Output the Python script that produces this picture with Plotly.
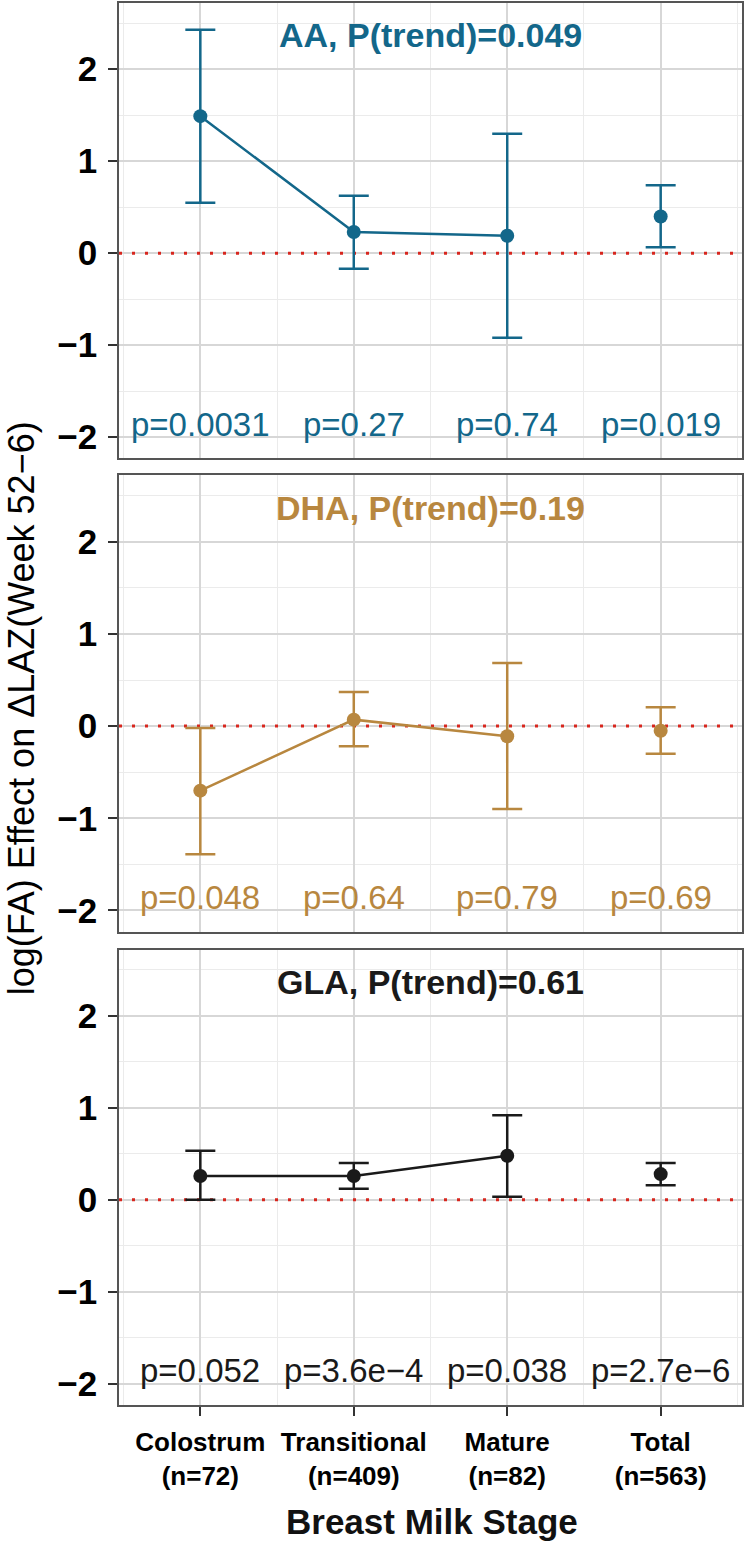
import plotly.graph_objects as go

# ---------------- data ----------------
stage_names = ["Colostrum", "Transitional", "Mature", "Total"]
stage_n = [72, 409, 82, 563]
stage_pos = [1, 2, 3, 4]

aa_est = [1.49, 0.23, 0.19, 0.40]
aa_lo = [0.55, -0.17, -0.92, 0.065]
aa_hi = [2.43, 0.625, 1.30, 0.74]
aa_p = ["p=0.0031", "p=0.27", "p=0.74", "p=0.019"]
aa_trend = "AA, P(trend)=0.049"

dha_est = [-0.70, 0.07, -0.11, -0.05]
dha_lo = [-1.39, -0.22, -0.90, -0.30]
dha_hi = [-0.02, 0.37, 0.685, 0.205]
dha_p = ["p=0.048", "p=0.64", "p=0.79", "p=0.69"]
dha_trend = "DHA, P(trend)=0.19"

gla_est = [0.26, 0.26, 0.48, 0.28]
gla_lo = [0.00, 0.12, 0.035, 0.16]
gla_hi = [0.535, 0.40, 0.92, 0.40]
gla_p = ["p=0.052", "p=3.6e\u22124", "p=0.038", "p=2.7e\u22126"]
gla_trend = "GLA, P(trend)=0.61"

y_ticks = [-2, -1, 0, 1, 2]
y_minor = [-1.5, -0.5, 0.5, 1.5, 2.5]
x_minor = [0.5, 1.5, 2.5, 3.5, 4.5]
ref_y = 0

panels = [
    dict(est=aa_est, lo=aa_lo, hi=aa_hi, p=aa_p, title=aa_trend, color="#13678A"),
    dict(est=dha_est, lo=dha_lo, hi=dha_hi, p=dha_p, title=dha_trend, color="#B8873F"),
    dict(est=gla_est, lo=gla_lo, hi=gla_hi, p=gla_p, title=gla_trend, color="#1A1A1A"),
]

# ---------------- style ----------------
FONT = "Liberation Sans, Arial, Helvetica, sans-serif"
W, H = 745, 1544
ML, MR, MT, MB = 119, 1, 1, 139
XR = [0.47, 4.53]
YR = [-2.23, 2.72]
domains = [[0.6752, 1.0], [0.3376, 0.6631], [0.0, 0.3248]]
GRID = "#D7D7D7"
MINOR = "#EBEBEB"
BORDER = "#555555"

fig = go.Figure()
layout = dict(
    width=W, height=H,
    margin=dict(l=ML, r=MR, t=MT, b=MB),
    paper_bgcolor="white", plot_bgcolor="white",
    showlegend=False,
    font=dict(family=FONT, color="black"),
    annotations=[],
)

tick_text = [f"{s}<br>(n={n})" for s, n in zip(stage_names, stage_n)]

for i, pnl in enumerate(panels):
    k = "" if i == 0 else str(i + 1)
    xa, ya = "x" + k, "y" + k
    col = pnl["color"]
    est, lo, hi = pnl["est"], pnl["lo"], pnl["hi"]
    up = [h - e for h, e in zip(hi, est)]
    dn = [e - l for e, l in zip(est, lo)]

    # zero reference line (dotted red), spanning the full axis range
    fig.add_trace(go.Scatter(
        x=XR, y=[ref_y, ref_y], mode="lines",
        line=dict(color="#D7261E", width=3, dash="3px,10px"),
        xaxis=xa, yaxis=ya, hoverinfo="skip"))

    # stages connected
    fig.add_trace(go.Scatter(
        x=stage_pos[:3], y=est[:3], mode="lines+markers",
        line=dict(color=col, width=2.5),
        marker=dict(color=col, size=14),
        error_y=dict(type="data", symmetric=False, array=up[:3], arrayminus=dn[:3],
                     color=col, thickness=2.5, width=15),
        xaxis=xa, yaxis=ya, hoverinfo="skip"))
    # total alone
    fig.add_trace(go.Scatter(
        x=stage_pos[3:], y=est[3:], mode="markers",
        marker=dict(color=col, size=14),
        error_y=dict(type="data", symmetric=False, array=up[3:], arrayminus=dn[3:],
                     color=col, thickness=2.5, width=15),
        xaxis=xa, yaxis=ya, hoverinfo="skip"))

    # panel title
    layout["annotations"].append(dict(
        text="<b>" + pnl["title"] + "</b>", x=2.5, y=2.37, xref=xa, yref=ya,
        showarrow=False, xanchor="center", yanchor="middle",
        font=dict(size=34, color=col, family=FONT)))
    # p-values
    for xp, ptxt in zip(stage_pos, pnl["p"]):
        layout["annotations"].append(dict(
            text=ptxt, x=xp, y=-1.86, xref=xa, yref=ya,
            showarrow=False, xanchor="center", yanchor="middle",
            font=dict(size=33, color=col, family=FONT)))

    last = i == 2
    layout["xaxis" + k] = dict(
        domain=[0, 1], anchor=ya, range=XR,
        tickmode="array", tickvals=stage_pos, ticktext=tick_text,
        showticklabels=last, ticks="outside" if last else "",
        ticklen=9, tickwidth=2, tickcolor="#333333",
        tickfont=dict(size=26, family=FONT, color="black", weight="bold"),
        ticklabelstandoff=4,
        showgrid=True, gridcolor=GRID, gridwidth=2.2,
        minor=dict(tickmode="array", tickvals=x_minor, showgrid=True,
                   gridcolor=MINOR, gridwidth=1.2, ticks=""),
        showline=True, mirror=True, linecolor=BORDER, linewidth=1.6,
        zeroline=False, fixedrange=True)
    if i > 0:
        layout["xaxis" + k]["matches"] = "x"
    layout["yaxis" + k] = dict(
        domain=domains[i], anchor=xa, range=YR,
        tickmode="array", tickvals=y_ticks,
        ticktext=[str(v).replace("-", "\u2212") for v in y_ticks],
        ticks="outside", ticklen=9, tickwidth=2, tickcolor="#333333",
        tickfont=dict(size=35, family=FONT, color="black", weight="bold"),
        ticklabelstandoff=4,
        showgrid=True, gridcolor=GRID, gridwidth=2.2,
        minor=dict(tickmode="array", tickvals=y_minor, showgrid=True,
                   gridcolor=MINOR, gridwidth=1.2, ticks=""),
        showline=True, mirror=True, linecolor=BORDER, linewidth=1.6,
        zeroline=False, fixedrange=True)

# shared axis titles
layout["annotations"].append(dict(
    text="log(FA) Effect on \u0394LAZ(Week 52\u22126)", textangle=-90,
    x=(22 - ML) / (W - ML - MR), y=(H - MB - 707) / (H - MB - MT),
    xref="paper", yref="paper", showarrow=False, xanchor="center", yanchor="middle",
    font=dict(size=36, family=FONT, color="black")))
layout["annotations"].append(dict(
    text="<b>Breast Milk Stage</b>",
    x=(433 - ML) / (W - ML - MR), y=(H - MB - 1522) / (H - MB - MT),
    xref="paper", yref="paper", showarrow=False, xanchor="center", yanchor="middle",
    font=dict(size=35, family=FONT, color="#111111")))

fig.update_layout(**layout)
fig.write_html("out.html", config={"displayModeBar": False},
               post_script="document.body.style.margin='0';document.body.style.padding='0';")
